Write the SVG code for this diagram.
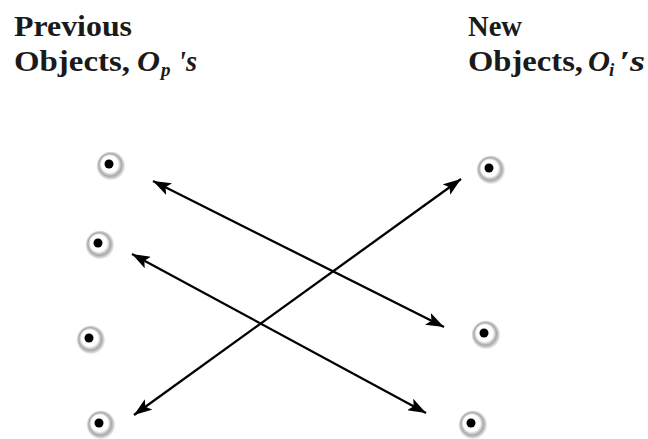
<svg xmlns="http://www.w3.org/2000/svg" width="648" height="439" viewBox="0 0 648 439">
<defs>
<radialGradient id="ring" cx="0.5" cy="0.5" r="0.5" fx="0.4" fy="0.36">
<stop offset="0" stop-color="#ffffff"/>
<stop offset="0.55" stop-color="#ffffff"/>
<stop offset="0.75" stop-color="#a8a8a8"/>
<stop offset="0.9" stop-color="#dedede"/>
<stop offset="1" stop-color="#ffffff" stop-opacity="0"/>
</radialGradient>
<marker id="a" viewBox="0 0 18 13" refX="18" refY="6.5" markerWidth="18" markerHeight="13" markerUnits="userSpaceOnUse" orient="auto-start-reverse">
<path d="M0,0 L18,6.5 L0,13 L4,6.5 Z" fill="#000"/>
</marker>
</defs>
<style>
.t{font-family:"Liberation Serif","Times New Roman",serif;font-weight:bold;font-size:29px;fill:#1a1a1a}
.m{font-style:italic}
.sub{font-size:19px;font-style:italic}
.halo{fill:url(#ring)}
.dot{fill:#000}
.c{stroke:#000;stroke-width:2.3;fill:none;marker-start:url(#a);marker-end:url(#a)}
</style>
<rect width="648" height="439" fill="#fff"/>
<g id="label-previous">
<text class="t" x="14" y="36" textLength="118" lengthAdjust="spacingAndGlyphs">Previous</text>
<text class="t" x="14" y="71" textLength="116" lengthAdjust="spacingAndGlyphs">Objects,</text>
<text class="t m" x="137" y="71" textLength="23" lengthAdjust="spacingAndGlyphs">O</text>
<text class="t sub" x="161" y="76">p</text>
<text class="t m" x="178" y="71" textLength="19" lengthAdjust="spacingAndGlyphs">'s</text>
</g>
<g id="label-new">
<text class="t" x="468" y="36" textLength="54" lengthAdjust="spacingAndGlyphs">New</text>
<text class="t" x="468" y="71" textLength="115" lengthAdjust="spacingAndGlyphs">Objects,</text>
<text class="t m" x="588" y="71" textLength="22" lengthAdjust="spacingAndGlyphs">O</text>
<text class="t sub" x="609" y="76">i</text>
<text class="t m" x="619" y="71" textLength="26" lengthAdjust="spacingAndGlyphs">′s</text>
</g>
<g id="p1"><circle class="halo" cx="111" cy="166" r="15"/><circle class="dot" cx="109" cy="164" r="4.5"/></g>
<g id="p2"><circle class="halo" cx="100" cy="245" r="15"/><circle class="dot" cx="98" cy="243" r="4.5"/></g>
<g id="p3"><circle class="halo" cx="91" cy="340" r="15"/><circle class="dot" cx="89" cy="338" r="4.5"/></g>
<g id="p4"><circle class="halo" cx="101" cy="425" r="15"/><circle class="dot" cx="99" cy="423" r="4.5"/></g>
<g id="n1"><circle class="halo" cx="491" cy="170" r="15"/><circle class="dot" cx="489" cy="168" r="4.5"/></g>
<g id="n2"><circle class="halo" cx="486" cy="335" r="15"/><circle class="dot" cx="484" cy="333" r="4.5"/></g>
<g id="n3"><circle class="halo" cx="473" cy="425" r="15"/><circle class="dot" cx="471" cy="423" r="4.5"/></g>
<g id="connectors">
<line class="c" x1="153" y1="181" x2="444" y2="327"/>
<line class="c" x1="132" y1="254" x2="426" y2="413"/>
<line class="c" x1="461" y1="179" x2="134" y2="415"/>
</g>
</svg>
